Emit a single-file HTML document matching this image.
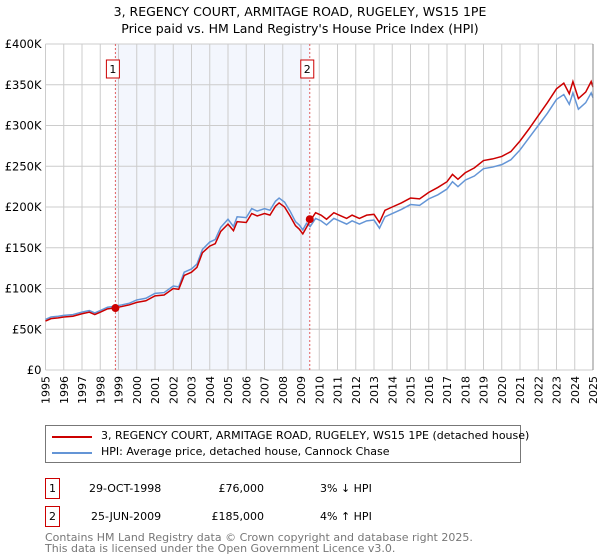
<!DOCTYPE html>
<html><head><meta charset="utf-8"><style>
body{margin:0;width:600px;height:560px;background:#fff;font-family:"DejaVu Sans","Liberation Sans",sans-serif;overflow:hidden;position:relative}
.t{position:absolute;white-space:nowrap;color:#000}
</style></head><body>
<svg width="600" height="420" style="position:absolute;left:0;top:0" font-family="DejaVu Sans, Liberation Sans, sans-serif">
<text x="300" y="16" text-anchor="middle" font-size="12.5">3, REGENCY COURT, ARMITAGE ROAD, RUGELEY, WS15 1PE</text>
<text x="300" y="33" text-anchor="middle" font-size="12.5">Price paid vs. HM Land Registry's House Price Index (HPI)</text>
<g id="g"></g>
</svg>
<div style="position:absolute;left:45px;top:425px;width:474px;height:36px;border:1px solid #777;font-size:11px">
<div style="position:absolute;left:6px;top:10px;width:40px;height:2px;background:#cc0000"></div>
<div class="t" style="left:55px;top:3px">3, REGENCY COURT, ARMITAGE ROAD, RUGELEY, WS15 1PE (detached house)</div>
<div style="position:absolute;left:6px;top:26px;width:40px;height:2px;background:#6495d6"></div>
<div class="t" style="left:55px;top:19px">HPI: Average price, detached house, Cannock Chase</div>
</div>
<div style="font-size:11px">
<div class="t" style="left:45px;top:478px;width:13px;height:19px;border:1px solid #c00;text-align:center;line-height:19px">1</div>
<div class="t" style="left:89px;top:482px">29-OCT-1998</div>
<div class="t" style="left:200px;top:482px;width:64px;text-align:right">£76,000</div>
<div class="t" style="left:320px;top:482px">3% ↓ HPI</div>
</div>
<div style="font-size:11px">
<div class="t" style="left:45px;top:506px;width:13px;height:19px;border:1px solid #c00;text-align:center;line-height:19px">2</div>
<div class="t" style="left:91px;top:510px">25-JUN-2009</div>
<div class="t" style="left:200px;top:510px;width:64px;text-align:right">£185,000</div>
<div class="t" style="left:320px;top:510px">4% ↑ HPI</div>
</div>
<div class="t" style="left:45px;top:532px;font-size:11px;color:#777;line-height:11px">Contains HM Land Registry data © Crown copyright and database right 2025.<br>This data is licensed under the Open Government Licence v3.0.</div>
<script>
const years=[1995.0,1995.3,1995.7,1996.0,1996.5,1997.0,1997.4,1997.7,1998.0,1998.4,1998.75,1999.2,1999.6,2000.0,2000.5,2001.0,2001.5,2002.0,2002.3,2002.6,2003.0,2003.3,2003.6,2004.0,2004.3,2004.6,2005.0,2005.3,2005.5,2006.0,2006.3,2006.6,2007.0,2007.3,2007.6,2007.8,2008.1,2008.4,2008.7,2008.9,2009.1,2009.3,2009.5,2009.8,2010.1,2010.4,2010.8,2011.1,2011.5,2011.8,2012.2,2012.6,2013.0,2013.3,2013.6,2014.0,2014.5,2015.0,2015.5,2016.0,2016.5,2017.0,2017.3,2017.6,2018.0,2018.5,2019.0,2019.5,2020.0,2020.5,2021.0,2021.5,2022.0,2022.5,2023.0,2023.4,2023.7,2023.9,2024.2,2024.6,2024.9,2025.0];
const hpi=[62,65,66,67,68,71,73,70,73,77,78,80,82,86,88,94,95,103,102,120,124,130,148,157,160,175,185,176,188,187,198,195,198,196,207,211,206,195,182,178,172,180,176,186,183,178,186,183,179,183,179,183,184,174,188,192,197,203,202,210,215,222,231,225,233,238,247,249,252,258,270,285,300,315,332,338,326,340,320,328,340,334];
const property=[60,63,64,65,66,69,71,68,71,75,76,78,80,83,85,91,92,100,99,116,120,126,144,152,155,170,179,171,182,181,192,189,192,190,201,205,200,189,177,173,167,175,183,193,190,185,193,190,186,190,186,190,191,181,196,200,205,211,210,218,224,231,240,234,242,248,257,259,262,268,281,296,312,328,345,352,339,354,333,341,354,347];
const saleYears=[1998.83,2009.48];
const salePrices=[76,185];
const saleLabels=["1","2"];
const yTicks=[0,50,100,150,200,250,300,350,400];
const yTickLabels=["£0","£50K","£100K","£150K","£200K","£250K","£300K","£350K","£400K"];
const xTicks=[1995,1996,1997,1998,1999,2000,2001,2002,2003,2004,2005,2006,2007,2008,2009,2010,2011,2012,2013,2014,2015,2016,2017,2018,2019,2020,2021,2022,2023,2024,2025];
const X0=45.5,X1=593,Y0=370,Y1=44;
const xs=y=>X0+(y-1995)/30*(X1-X0);
const ys=v=>Y0-v/400*(Y0-Y1);
const g=document.getElementById('g');const NS='http://www.w3.org/2000/svg';
function mk(t,a){const e=document.createElementNS(NS,t);for(const k in a)e.setAttribute(k,a[k]);g.appendChild(e);return e;}
let e=mk('rect',{x:xs(saleYears[0]),y:Y1,width:xs(saleYears[1])-xs(saleYears[0]),height:Y0-Y1,fill:'#eef2fc',opacity:0.7});


xTicks.forEach(t=>{
 const l=mk('line',{x1:xs(t),x2:xs(t),y1:Y1,y2:Y0,stroke:'#ccc','stroke-width':1});
 
 
 const tx=mk('text',{x:0,y:0,'font-size':11,'text-anchor':'end',transform:`translate(${xs(t)+4},${Y0+6}) rotate(-90)`});
 tx.textContent=t;
 
 
});
yTicks.forEach((t,i)=>{
 const l=mk('line',{x1:X0,x2:X1,y1:ys(t),y2:ys(t),stroke:'#ccc','stroke-width':1});
 
 
 const tx=mk('text',{x:X0-4,y:ys(t)+4,'font-size':11.5,'text-anchor':'end'});
 tx.textContent=yTickLabels[i];
 
 
});
saleYears.forEach((s,i)=>{
 const l=mk('line',{x1:xs(s),x2:xs(s),y1:Y1,y2:Y0,stroke:'#e06060','stroke-width':1,'stroke-dasharray':'2,2'});
 
 
 const r=mk('rect',{x:xs(s)-9,y:60,width:13,height:18,fill:'#fff',stroke:'#c00'});
 
 
 const tx=mk('text',{x:xs(s)-2.5,y:73,'font-size':11,'text-anchor':'middle'});
 tx.textContent=saleLabels[i];
 
 
});
const p1=mk('polyline',{points:years.map((y,i)=>xs(y)+','+ys(hpi[i])).join(' '),fill:'none',stroke:'#6495d6','stroke-width':1.5});


const p2=mk('polyline',{points:years.map((y,i)=>xs(y)+','+ys(property[i])).join(' '),fill:'none',stroke:'#cc0000','stroke-width':1.5});


saleYears.forEach((s,i)=>{
 const c=mk('circle',{cx:xs(s),cy:ys(salePrices[i]),r:4,fill:'#cc0000'});
 
 
});
const ax=mk('line',{x1:X1,x2:X1,y1:Y1,y2:Y0,stroke:'#888'});


</script>
</body></html>
